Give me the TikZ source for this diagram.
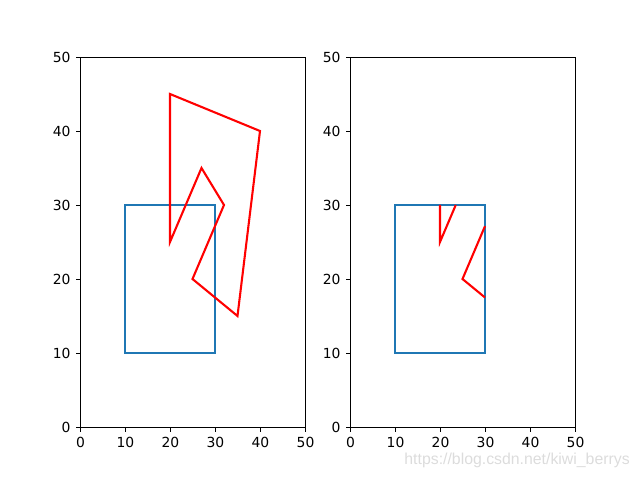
\documentclass[tikz,border=0pt]{standalone}
\usepackage{fontspec}
\setmainfont{DejaVu Sans}
\newfontfamily\wmfont{Liberation Sans}
\definecolor{tabblue}{HTML}{1F77B4}
\definecolor{wmgray}{HTML}{DCDCDC}
\begin{document}
\begin{tikzpicture}[x=1pt,y=1pt,
  spine/.style={line width=0.8pt,black},
  tickmark/.style={line width=0.8pt,black},
  ticklab/.style={font=\fontsize{10}{12}\selectfont,inner sep=0pt},
  rectline/.style={line width=1.5pt,tabblue,line join=miter},
  polyline/.style={line width=1.5pt,red,line join=miter}]
\useasboundingbox (0,0) rectangle (460.8,345.6);
\foreach \ox/\nm in {57.96/L,252.36/R}{
\begin{scope}[shift={(\ox,37.8)},x=3.24pt,y=5.328pt]
  \draw[spine] (0,0) rectangle (50,50);
  \foreach \t in {0,10,20,30,40,50}{
    \draw[tickmark] (\t,0) -- ++(0,-3.5pt);
    \node[ticklab,anchor=north] (xt\nm\t) at ([yshift=-7pt]\t,0) {\t};
    \draw[tickmark] (0,\t) -- ++(-3.5pt,0);
    \node[ticklab,anchor=east] (yt\nm\t) at ([xshift=-7pt]0,\t) {\t};
  }
\end{scope}
\begin{scope}[shift={(\ox-0.36,38.16)},x=3.24pt,y=5.328pt]
  \draw[rectline] (10,10) rectangle (30,30);
\end{scope}
}
\begin{scope}[shift={(57.6,38.16)},x=3.24pt,y=5.328pt]
  \draw[polyline] (20,45) -- (40,40) -- (35,15) -- (25,20) -- (32,30) -- (27,35) -- (20,25) -- cycle;
\end{scope}
\begin{scope}[shift={(252.0,38.16)},x=3.24pt,y=5.328pt]
  \draw[polyline] (20,30) -- (20,25) -- (23.5,30);
  \draw[polyline] (30,27.142857) -- (25,20) -- (30,17.5);
\end{scope}
\node[text=wmgray,font=\wmfont\fontsize{11.4}{13}\selectfont,inner sep=0pt,anchor=base east] (wm) at (453.6,11.2) {https://blog.csdn.net/kiwi\_berrys};
\end{tikzpicture}
\end{document}
